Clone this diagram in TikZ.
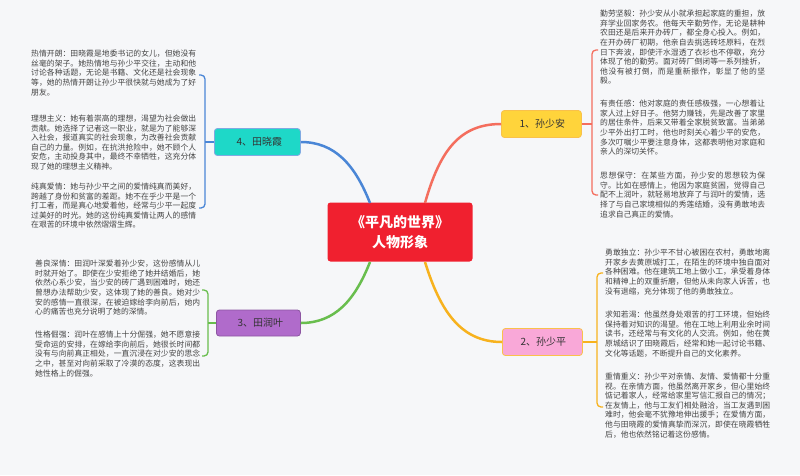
\documentclass[tikz,border=0pt]{standalone}
\usepackage{fontspec}
\setmainfont{Noto Sans CJK SC}
\XeTeXlinebreaklocale "zh"
\XeTeXlinebreakskip=0pt plus 1pt
\definecolor{bg}{HTML}{F6F7F9}
\definecolor{cred}{HTML}{F0202F}
\definecolor{cyel}{HTML}{FFD43B}
\definecolor{cpink}{HTML}{F9A8D8}
\definecolor{cpur}{HTML}{B06BCB}
\definecolor{ccyan}{HTML}{1ED8C8}
\definecolor{lred}{HTML}{F46E5E}
\definecolor{lorg}{HTML}{F7B21E}
\definecolor{lgrn}{HTML}{69BE4E}
\definecolor{lblu}{HTML}{4A86D6}
\definecolor{txt}{HTML}{444444}
\begin{document}
\begin{tikzpicture}[x=1pt,y=-1pt,
  para/.style={anchor=north west,inner sep=0pt,text width=165pt,align=justify,text=txt,font=\fontsize{7.8}{9.55}\selectfont},
  topic/.style={rounded corners=3pt,minimum height=27pt,anchor=west,font=\fontsize{10}{12}\selectfont,text=black!80,line width=0.8pt}]
\fill[bg] (0,0) rectangle (800,475);
\useasboundingbox (0,0) rectangle (800,475);
\node[fill=cred,rounded corners=3pt,minimum width=145pt,minimum height=59pt,align=center,text=white,font=\bfseries\fontsize{14}{20}\selectfont] (c) at (400,232) {《平凡的世界》\\人物形象};
\node[topic,fill=cyel,draw=lorg!80,minimum width=80pt] (n1) at (501,124) {\hspace{2pt}1、孙少安};
\node[topic,fill=cpink,draw=lorg!80,minimum width=80pt] (n2) at (502,342) {\hspace{2pt}2、孙少平};
\node[topic,fill=cpur,draw=cpur!80!black,minimum width=84pt,minimum height=26pt] (n3) at (216,323) {\hspace{4pt}3、田润叶};
\node[topic,fill=ccyan,draw=lblu!70,minimum width=86pt] (n4) at (214,142) {\hspace{4pt}4、田晓霞};
% curves
\draw[lred,line width=2.5pt] (425,203) .. controls (440,150) and (460,124) .. (n1.west);
\draw[lorg,line width=2.5pt] (425,262) .. controls (440,310) and (460,342) .. (n2.west);
\draw[lgrn,line width=2.5pt] (370,262) .. controls (355,300) and (335,323) .. (n3.east);
\draw[lblu,line width=2.5pt] (370,203) .. controls (355,165) and (335,142) .. (n4.east);
% brackets
\coordinate (b1) at (592,124);
\draw[lred,line width=1.3pt] (n1.east) -- (b1);
\draw[lred,line width=1.3pt,rounded corners=4pt] (598,50) -- (592,50) -- (592,195) -- (598,195);
\coordinate (b2) at (597,342);
\draw[lorg,line width=1.3pt] (n2.east) -- (b2);
\draw[lorg,line width=1.3pt,rounded corners=4pt] (603,273) -- (597,273) -- (597,407) -- (603,407);
\coordinate (b3) at (208,323);
\draw[lgrn,line width=1.3pt] (n3.west) -- (b3);
\draw[lgrn,line width=1.3pt,rounded corners=4pt] (202,290) -- (208,290) -- (208,356) -- (202,356);
\coordinate (b4) at (205,142);
\draw[lblu,line width=1.3pt] (n4.west) -- (b4);
\draw[lblu,line width=1.3pt,rounded corners=4pt] (199,75) -- (205,75) -- (205,208) -- (199,208);
% left top texts
\node[para] (t41) at (31,50) {热情开朗：田晓霞是地委书记的女儿，但她没有丝毫的架子。她热情地与孙少平交往，主动和他讨论各种话题，无论是书籍、文化还是社会现象等，她的热情开朗让孙少平很快就与她成为了好朋友。};
\node[para] (t42) at (31,115) {理想主义：她有着崇高的理想，渴望为社会做出贡献。她选择了记者这一职业，就是为了能够深入社会，报道真实的社会现象，为改善社会贡献自己的力量。例如，在抗洪抢险中，她不顾个人安危，主动投身其中，最终不幸牺牲，这充分体现了她的理想主义精神。};
\node[para] (t43) at (31,183) {纯真爱情：她与孙少平之间的爱情纯真而美好，跨越了身份和贫富的差距。她不在乎少平是一个打工者，而是真心地爱着他，经常与少平一起度过美好的时光。她的这份纯真爱情让两人的感情在艰苦的环境中依然熠熠生辉。};
% left bottom
\node[para] (t31) at (35,260) {善良深情：田润叶深爱着孙少安，这份感情从儿时就开始了。即使在少安拒绝了她并结婚后，她依然心系少安，当少安的砖厂遇到困难时，她还曾想办法帮助少安，这体现了她的善良。她对少安的感情一直很深，在被迫嫁给李向前后，她内心的痛苦也充分说明了她的深情。};
\node[para] (t32) at (35,331) {性格倔强：润叶在感情上十分倔强，她不愿意接受命运的安排，在嫁给李向前后，她很长时间都没有与向前真正相处，一直沉浸在对少安的思念之中，甚至对向前采取了冷漠的态度，这表现出她性格上的倔强。};
% right top
\node[para] (t11) at (600,10) {勤劳坚毅：孙少安从小就承担起家庭的重担，放弃学业回家务农。他每天辛勤劳作，无论是耕种农田还是后来开办砖厂，都全身心投入。例如，在开办砖厂初期，他亲自去挑选砖坯原料，在烈日下奔波，即使汗水湿透了衣衫也不停歇，充分体现了他的勤劳。面对砖厂倒闭等一系列挫折，他没有被打倒，而是重新振作，彰显了他的坚毅。};
\node[para] (t12) at (600,100) {有责任感：他对家庭的责任感极强，一心想着让家人过上好日子。他努力赚钱，先是改善了家里的居住条件，后来又带着全家脱贫致富。当弟弟少平外出打工时，他也时刻关心着少平的安危，多次叮嘱少平要注意身体，这都表明他对家庭和亲人的深切关怀。};
\node[para] (t13) at (600,172) {思想保守：在某些方面，孙少安的思想较为保守。比如在感情上，他因为家庭贫困，觉得自己配不上润叶，就轻易地放弃了与润叶的爱情，选择了与自己家境相似的秀莲结婚，没有勇敢地去追求自己真正的爱情。};
% right bottom
\node[para] (t21) at (605,249) {勇敢独立：孙少平不甘心被困在农村，勇敢地离开家乡去黄原城打工，在陌生的环境中独自面对各种困难。他在建筑工地上做小工，承受着身体和精神上的双重折磨，但他从未向家人诉苦，也没有退缩，充分体现了他的勇敢独立。};
\node[para] (t22) at (605,311) {求知若渴：他虽然身处艰苦的打工环境，但始终保持着对知识的渴望。他在工地上利用业余时间读书，还经常与有文化的人交流。例如，他在黄原城结识了田晓霞后，经常和她一起讨论书籍、文化等话题，不断提升自己的文化素养。};
\node[para] (t23) at (605,373) {重情重义：孙少平对亲情、友情、爱情都十分重视。在亲情方面，他虽然离开家乡，但心里始终惦记着家人，经常给家里写信汇报自己的情况；在友情上，他与工友们相处融洽，当工友遇到困难时，他会毫不犹豫地伸出援手；在爱情方面，他与田晓霞的爱情真挚而深沉，即使在晓霞牺牲后，他也依然铭记着这份感情。};
\end{tikzpicture}
\end{document}
